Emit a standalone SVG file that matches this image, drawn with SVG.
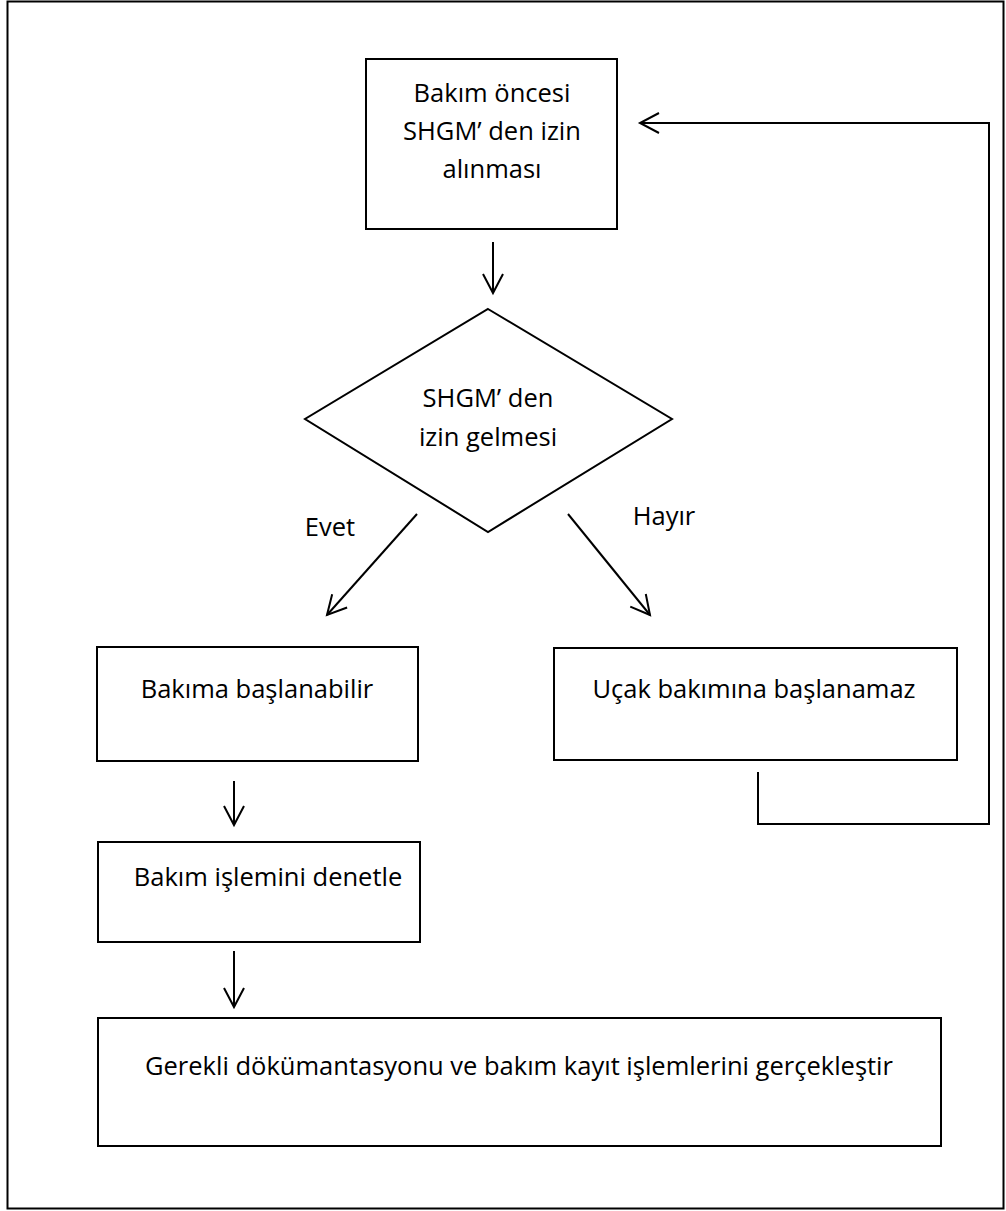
<svg xmlns="http://www.w3.org/2000/svg" width="1006" height="1211" viewBox="0 0 1006 1211">
<style>
.box{fill:#fff;stroke:#000;stroke-width:2}
.t{font-family:"Open Sans","Liberation Sans",sans-serif;font-size:25.5px;fill:#000;text-anchor:middle}
.c{fill:none;stroke:#000;stroke-width:2}
</style>
<defs>
<marker id="ah" markerUnits="userSpaceOnUse" markerWidth="24" markerHeight="24" viewBox="0 0 24 24" refX="21" refY="12" orient="auto">
<path d="M2,2 L21,12 L2,22" fill="none" stroke="#000" stroke-width="2"/>
</marker>
</defs>
<rect x="7.5" y="1.5" width="996" height="1207" fill="#fff" stroke="#000" stroke-width="2"/>
<g id="n1">
<rect class="box" x="366" y="59" width="251" height="170"/>
<text class="t" x="492" y="102">Bakım öncesi</text>
<text class="t" x="492" y="140">SHGM’ den izin</text>
<text class="t" x="492" y="178">alınması</text>
</g>
<g id="n2">
<polygon class="box" points="488,309 672,419 488,532 305,419"/>
<text class="t" x="488" y="407">SHGM’ den</text>
<text class="t" x="488" y="446">izin gelmesi</text>
</g>
<g id="n3">
<rect class="box" x="97" y="647" width="321" height="114"/>
<text class="t" x="257" y="698">Bakıma başlanabilir</text>
</g>
<g id="n4">
<rect class="box" x="554" y="648" width="403" height="112"/>
<text class="t" x="754" y="698">Uçak bakımına başlanamaz</text>
</g>
<g id="n5">
<rect class="box" x="98" y="842" width="322" height="100"/>
<text class="t" x="268" y="886">Bakım işlemini denetle</text>
</g>
<g id="n6">
<rect class="box" x="98" y="1018" width="843" height="128"/>
<text class="t" x="519" y="1075">Gerekli dökümantasyonu ve bakım kayıt işlemlerini gerçekleştir</text>
</g>
<g id="labels">
<text class="t" x="330" y="536">Evet</text>
<text class="t" x="664" y="525">Hayır</text>
</g>
<g id="connectors">
<line class="c" x1="493" y1="242" x2="493" y2="293" marker-end="url(#ah)"/>
<line class="c" x1="417" y1="514" x2="327" y2="615" marker-end="url(#ah)"/>
<line class="c" x1="568" y1="514" x2="650" y2="615" marker-end="url(#ah)"/>
<line class="c" x1="234" y1="781" x2="234" y2="825" marker-end="url(#ah)"/>
<line class="c" x1="234" y1="951" x2="234" y2="1007" marker-end="url(#ah)"/>
<polyline class="c" points="758,772 758,824 989,824 989,123 640,123" marker-end="url(#ah)"/>
</g>
</svg>
